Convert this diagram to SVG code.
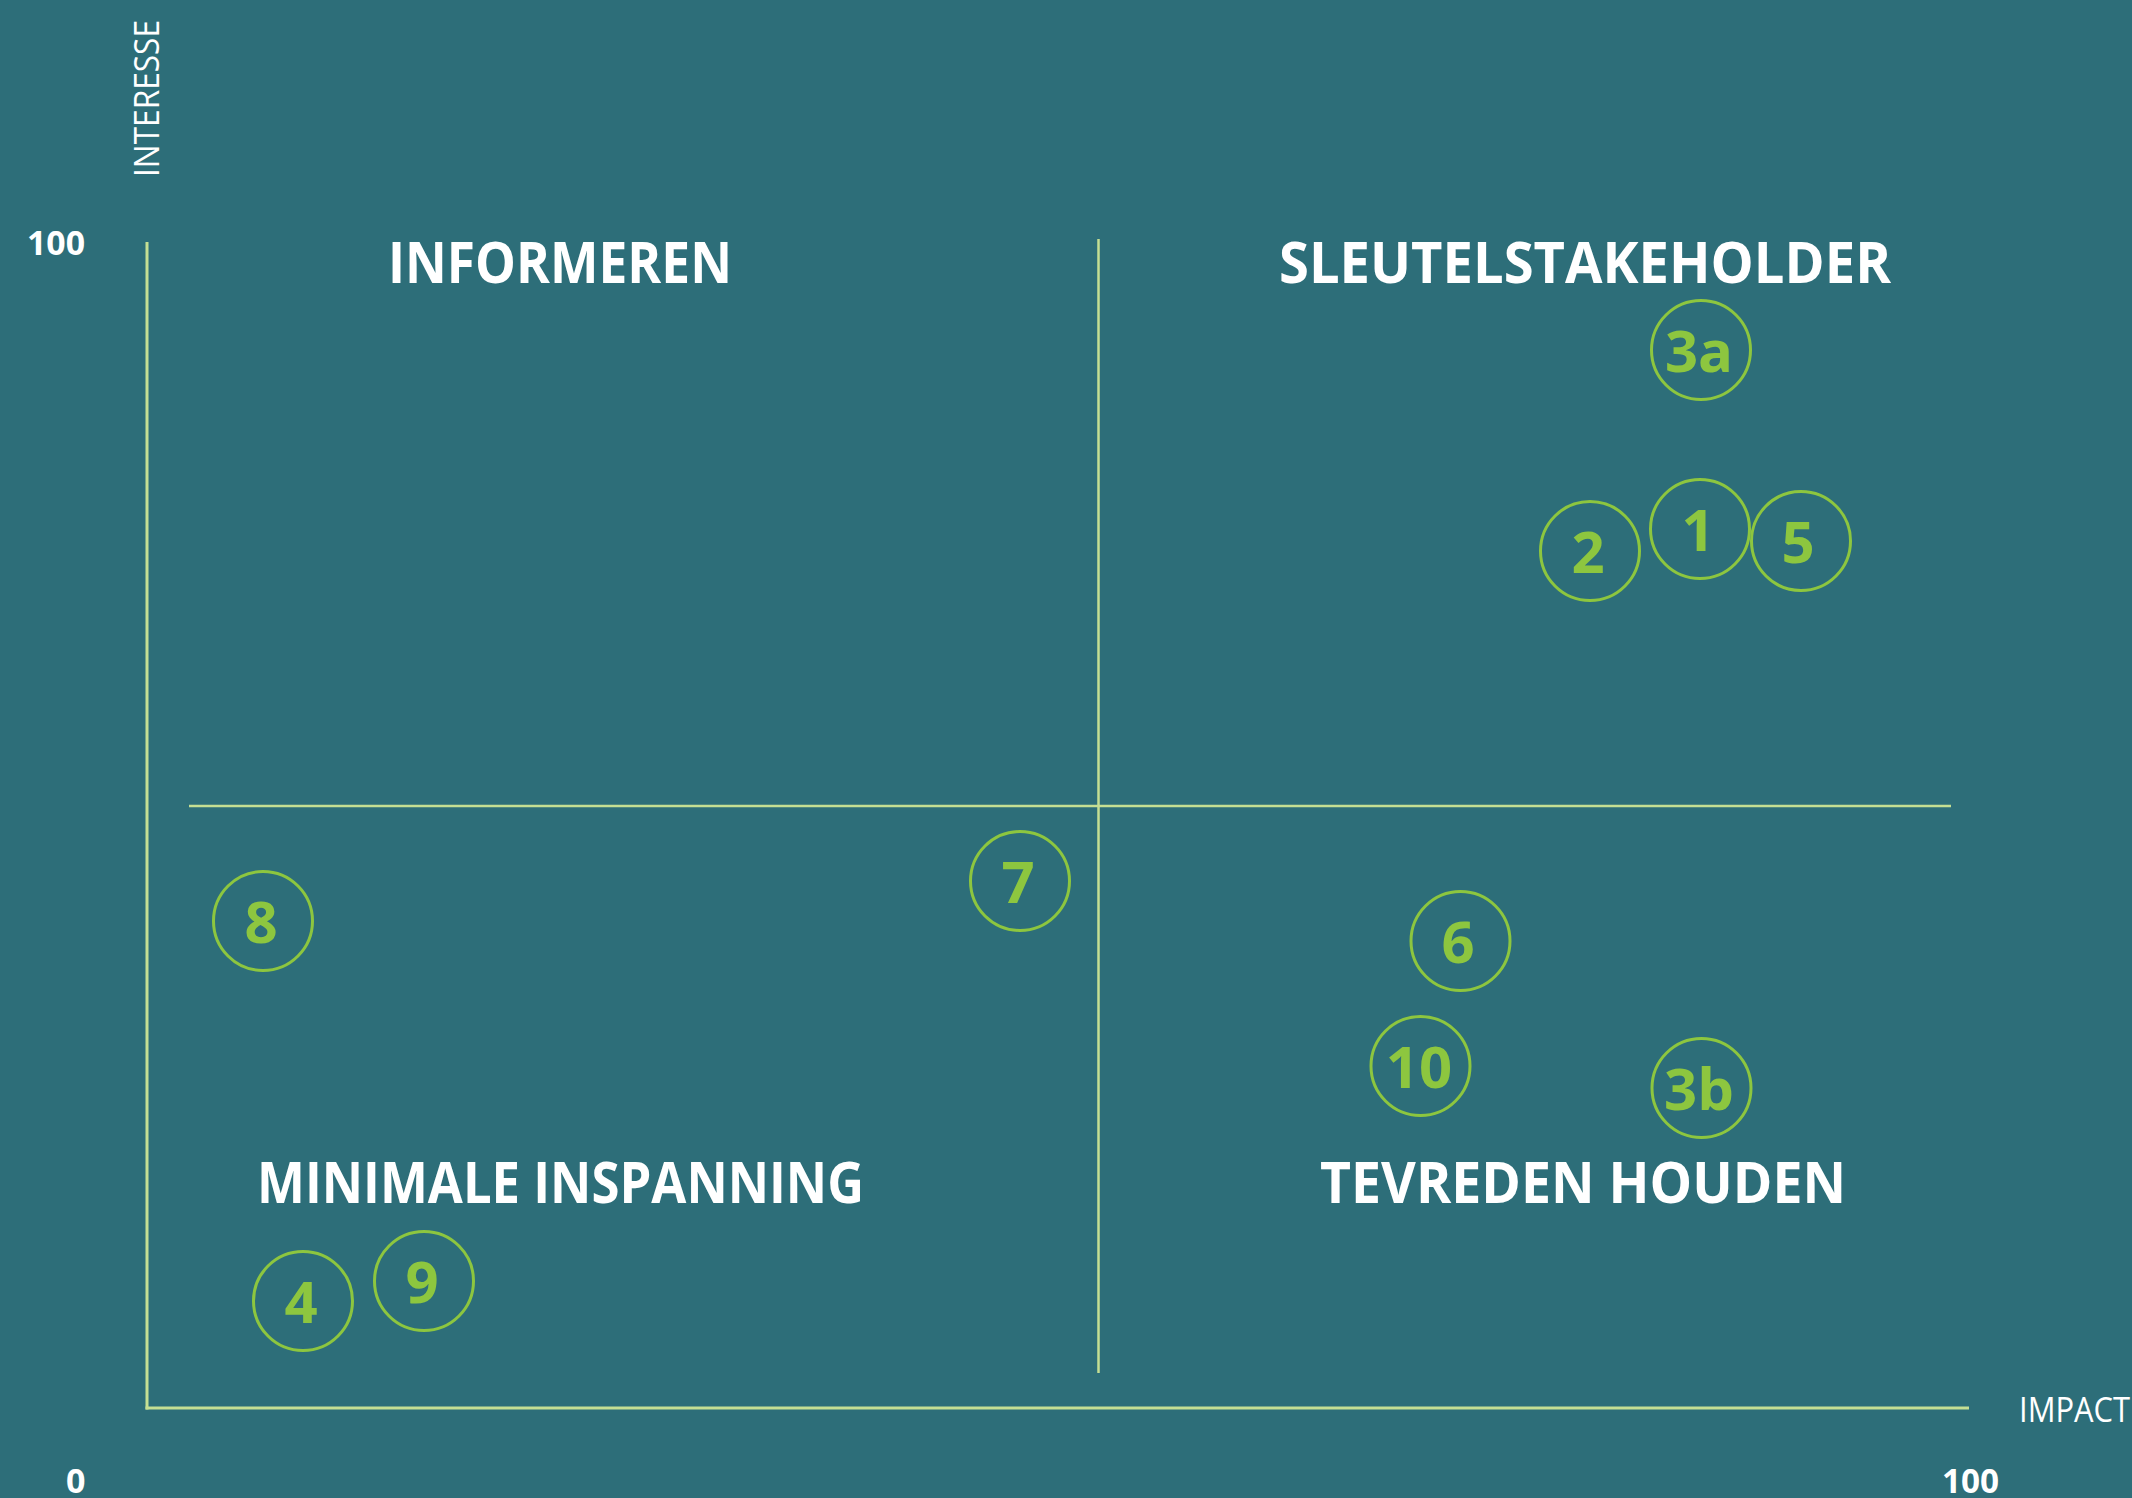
<svg xmlns="http://www.w3.org/2000/svg" width="2132" height="1498" viewBox="0 0 2132 1498">
<style>
.axis{stroke:#c5df93;stroke-width:3;fill:none}
.quad{stroke:#c5df93;stroke-width:2.5;fill:none}
.title{font-family:"Open Sans","Liberation Sans",sans-serif;font-weight:700;font-size:58px;fill:#ffffff}
.lbl{font-family:"Open Sans","Liberation Sans",sans-serif;font-weight:400;font-size:35px;fill:#ffffff}
.num{font-family:"Open Sans","Liberation Sans",sans-serif;font-weight:700;font-size:34px;fill:#ffffff}
.node circle{fill:none;stroke:#8dc63f;stroke-width:3}
.node text{font-family:"Open Sans","Liberation Sans",sans-serif;font-weight:700;font-size:58px;fill:#8dc63f;text-anchor:middle}
</style>
<rect width="2132" height="1498" fill="#2d6e79"/>
<g id="axes">
<line class="axis" x1="147" y1="242" x2="147" y2="1409.5"/>
<line class="axis" x1="145.5" y1="1408" x2="1969" y2="1408"/>
<line class="quad" x1="1098.5" y1="239" x2="1098.5" y2="1373"/>
<line class="quad" x1="189" y1="806" x2="1951" y2="806"/>
</g>
<g id="labels">
<text class="lbl" transform="translate(159,98.5) rotate(-90)" text-anchor="middle" textLength="157" lengthAdjust="spacingAndGlyphs">INTERESSE</text>
<text class="lbl" x="2019" y="1422" textLength="111" lengthAdjust="spacingAndGlyphs">IMPACT</text>
<text class="num" x="27" y="255" textLength="58" lengthAdjust="spacingAndGlyphs">100</text>
<text class="num" x="66" y="1493">0</text>
<text class="num" x="1942" y="1493" textLength="57" lengthAdjust="spacingAndGlyphs">100</text>
<text class="title" x="388" y="283" textLength="344" lengthAdjust="spacingAndGlyphs">INFORMEREN</text>
<text class="title" x="1279" y="283" textLength="612" lengthAdjust="spacingAndGlyphs">SLEUTELSTAKEHOLDER</text>
<text class="title" x="257" y="1203" textLength="607" lengthAdjust="spacingAndGlyphs">MINIMALE INSPANNING</text>
<text class="title" x="1320" y="1203" textLength="526" lengthAdjust="spacingAndGlyphs">TEVREDEN HOUDEN</text>
</g>
<g id="node-3a" class="node"><circle cx="1701" cy="350" r="49.5"/><text x="1699" y="372">3a</text></g>
<g id="node-2" class="node"><circle cx="1590" cy="551" r="49.5"/><text x="1588" y="573">2</text></g>
<g id="node-1" class="node"><circle cx="1700" cy="529" r="49.5"/><text x="1698" y="551">1</text></g>
<g id="node-5" class="node"><circle cx="1801" cy="541" r="49.5"/><text x="1798" y="563">5</text></g>
<g id="node-7" class="node"><circle cx="1020" cy="881" r="49.5"/><text x="1018" y="903">7</text></g>
<g id="node-8" class="node"><circle cx="263" cy="921" r="49.5"/><text x="261" y="943">8</text></g>
<g id="node-6" class="node"><circle cx="1460.5" cy="941" r="49.5"/><text x="1458" y="963">6</text></g>
<g id="node-10" class="node"><circle cx="1420.5" cy="1066" r="49.5"/><text x="1419" y="1088">10</text></g>
<g id="node-3b" class="node"><circle cx="1701.5" cy="1088" r="49.5"/><text x="1699" y="1110">3b</text></g>
<g id="node-4" class="node"><circle cx="303" cy="1301" r="49.5"/><text x="301" y="1323">4</text></g>
<g id="node-9" class="node"><circle cx="424" cy="1281" r="49.5"/><text x="422" y="1303">9</text></g>
<g id="connectors"></g>
</svg>
